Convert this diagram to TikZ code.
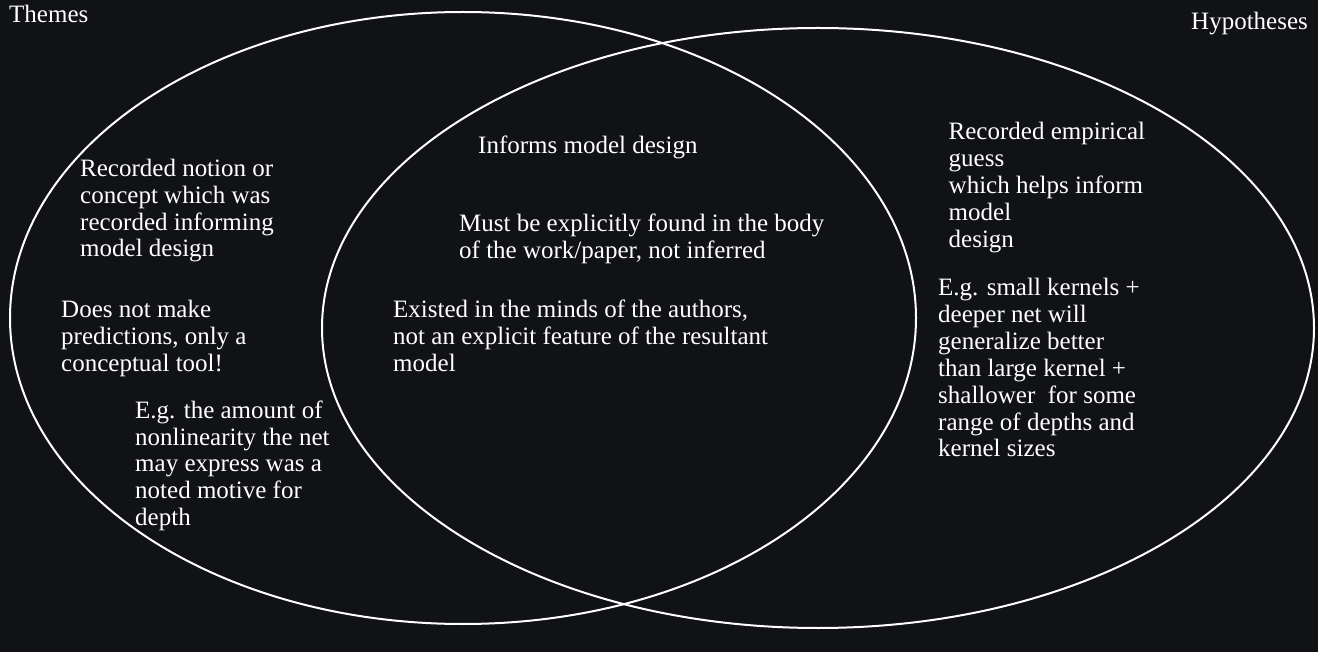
\documentclass[tikz,border=0pt]{standalone}
\usepackage{fontspec}
\setmainfont{Liberation Serif}
\usepackage{tikz}
\usetikzlibrary{positioning}
\definecolor{bgdark}{RGB}{17,18,22}

\begin{document}
\begin{tikzpicture}[x=1pt,y=-1pt,
	txt/.style={anchor=north west, inner sep=0pt, align=left, text=white, font=\fontsize{25}{26.9}\selectfont},
	ring/.style={draw=white, line width=2pt}]
			%background
			\fill[bgdark] (0,0) rectangle (1318,652);
			\useasboundingbox (0,0) rectangle (1318,652);
			%ellipses
			\draw[ring] (463,318) ellipse [x radius=453, y radius=306];
			\draw[ring] (818,328) ellipse [x radius=496, y radius=300];
			%titles
			\node[txt](themes) at (9,4.7){Themes};
			\node[txt](hypo) at (1191,12.3){Hypotheses};
			%leftpart
			\node[txt](notion) at (80,158.7){Recorded notion or\\concept which was\\recorded informing\\model design};
			\node[txt](pred) at (61,299.7){Does not make\\predictions, only a\\conceptual tool!};
			\node[txt](egleft) at (135,400.3){E.g. the amount of\\nonlinearity the net\\may express was a\\noted motive for\\depth};
			%middle part
			\node[txt](informs) at (478,135.7){Informs model design};
			\node[txt](must) at (459,213.7){Must be explicitly found in the body\\of the work/paper, not inferred};
			\node[txt](existed) at (393,299.7){Existed in the minds of the authors,\\not an explicit feature of the resultant\\model};
			%rightpart
			\node[txt](guess) at (948.5,122.3){Recorded empirical\\guess\\which helps inform\\model\\design};
			\node[txt](egright) at (938,278){E.g. small kernels +\\deeper net will\\generalize better\\than large kernel +\\shallower~ for some\\range of depths and\\kernel sizes};
			\end{tikzpicture}
\end{document}
